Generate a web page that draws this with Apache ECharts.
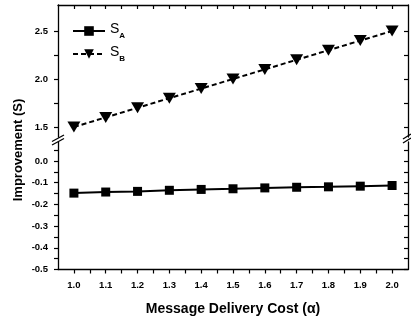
<!DOCTYPE html>
<html>
<head>
<meta charset="utf-8">
<script src="https://cdn.jsdelivr.net/npm/echarts@6/dist/echarts.min.js"></script>
<style>
html,body{margin:0;padding:0;background:#fff;}
#chart{width:411px;height:322px;}
</style>
</head>
<body>
<div id="chart"></div>
<script>
// ---- data ----
const xValues = [1.0, 1.1, 1.2, 1.3, 1.4, 1.5, 1.6, 1.7, 1.8, 1.9, 2.0];
const sA = [-0.148, -0.143, -0.140, -0.135, -0.131, -0.128, -0.124, -0.121, -0.119, -0.116, -0.113];
const sB = [1.5, 1.6, 1.7, 1.8, 1.9, 2.0, 2.1, 2.2, 2.3, 2.4, 2.5];
const seriesNames = ['SA', 'SB'];
const xTickLabels = [1.0, 1.1, 1.2, 1.3, 1.4, 1.5, 1.6, 1.7, 1.8, 1.9, 2.0];
const xTickMarks = [1.0, 1.05, 1.1, 1.15, 1.2, 1.25, 1.3, 1.35, 1.4, 1.45, 1.5, 1.55, 1.6, 1.65, 1.7, 1.75, 1.8, 1.85, 1.9, 1.95, 2.0];
const yTopLabels = [1.5, 2.0, 2.5];
const yTopTicks = [1.5, 1.75, 2.0, 2.25, 2.5];
const yBottomLabels = [-0.5, -0.4, -0.3, -0.2, -0.1, 0.0];
const yBottomTicks = [-0.5, -0.45, -0.4, -0.35, -0.3, -0.25, -0.2, -0.15, -0.1, -0.05, 0.0, 0.05];
const xTitle = 'Message Delivery Cost (\u03B1)';
const yTitle = 'Improvement (S)';

// ---- layout ----
const W = 411, H = 322;
const L = 58, R = 408, T = 5, B1 = 137, T2 = 142, BOT = 269.5;
const font = 'Liberation Sans, Arial, Helvetica, sans-serif';

const chart = echarts.init(document.getElementById('chart'), null, {renderer: 'canvas'});

function xAxisCommon(grid, pos, showLabel, inside) {
  return {
    type: 'value', gridIndex: grid, position: pos, min: 0.95, max: 2.05,
    axisLine: {show: true, onZero: false, lineStyle: {color: '#000', width: 1.3}},
    axisTick: {show: true, inside: inside, length: 4, customValues: xTickMarks, lineStyle: {color: '#000', width: 1.2}},
    axisLabel: {show: showLabel, customValues: xTickLabels, formatter: v => v.toFixed(1),
      color: '#000', fontSize: 9.5, fontWeight: 'bold', fontFamily: font, margin: 11},
    splitLine: {show: false}
  };
}
function yAxisCommon(grid, pos, min, max, labels, ticks, showLabel, inside) {
  return {
    type: 'value', gridIndex: grid, position: pos, min: min, max: max,
    axisLine: {show: true, onZero: false, lineStyle: {color: '#000', width: 1.3}},
    axisTick: {show: true, inside: inside, length: 4, customValues: ticks, lineStyle: {color: '#000', width: 1.2}},
    axisLabel: {show: showLabel, customValues: labels, formatter: v => v.toFixed(1),
      color: '#000', fontSize: 9.5, fontWeight: 'bold', fontFamily: font, margin: 10},
    splitLine: {show: false}
  };
}

const topMax = 2.5 + (31 - T) / 96;
const topMin = 1.5 - (B1 - 127) / 96;
const botMax = (161 - T2) / 217;

const option = {
  backgroundColor: '#fff',
  animation: false,
  grid: [
    {left: L, right: W - R, top: T, height: B1 - T},
    {left: L, right: W - R, top: T2, height: BOT - T2}
  ],
  xAxis: [
    xAxisCommon(0, 'top', false, true),
    Object.assign(xAxisCommon(1, 'bottom', true, false), {
      name: xTitle, nameLocation: 'middle', nameGap: 33,
      nameTextStyle: {color: '#000', fontSize: 14, fontWeight: 'bold', fontFamily: font}
    })
  ],
  yAxis: [
    yAxisCommon(0, 'left', topMin, topMax, yTopLabels, yTopTicks, true, false),
    yAxisCommon(0, 'right', topMin, topMax, yTopLabels, yTopTicks, false, true),
    yAxisCommon(1, 'left', -0.5, botMax, yBottomLabels, yBottomTicks, true, false),
    yAxisCommon(1, 'right', -0.5, botMax, yBottomLabels, yBottomTicks, false, true)
  ],
  legend: {
    orient: 'vertical', left: 67, top: 17, itemWidth: 32, itemHeight: 12, itemGap: 5,
    padding: 5,
    data: seriesNames,
    formatter: n => '{s|S}{sub|' + n.slice(1) + '}',
    textStyle: {
      color: '#000', fontFamily: font,
      rich: {
        s: {fontSize: 14, lineHeight: 18, verticalAlign: 'top', fontFamily: font, color: '#000'},
        sub: {fontSize: 8, lineHeight: 18, verticalAlign: 'bottom', fontFamily: font, color: '#000', fontWeight: 'bold'}
      }
    }
  },
  series: [
    {
      name: seriesNames[0], type: 'line', xAxisIndex: 1, yAxisIndex: 2,
      data: xValues.map((x, i) => [x, sA[i]]),
      symbol: 'rect', symbolSize: 9,
      itemStyle: {color: '#000'},
      lineStyle: {color: '#000', width: 2, type: 'solid'}
    },
    {
      name: seriesNames[1], type: 'line', xAxisIndex: 0, yAxisIndex: 0,
      data: xValues.map((x, i) => [x, sB[i]]),
      symbol: 'triangle', symbolRotate: 180, symbolSize: [13, 11],
      itemStyle: {color: '#000'},
      lineStyle: {color: '#000', width: 2, type: [5, 3]}
    }
  ],
  graphic: [
    {type: 'text', x: 18, y: 150, rotation: Math.PI / 2,
      style: {text: yTitle, fill: '#000', font: 'bold 13px ' + font, textAlign: 'center', textVerticalAlign: 'middle'}},
    {type: 'line', shape: {x1: L - 6, y1: 141.5, x2: L + 6, y2: 135}, style: {stroke: '#000', lineWidth: 1.3}},
    {type: 'line', shape: {x1: L - 6, y1: 145, x2: L + 6, y2: 138.5}, style: {stroke: '#000', lineWidth: 1.3}},
    {type: 'line', shape: {x1: R - 5, y1: 139, x2: R + 3, y2: 134}, style: {stroke: '#000', lineWidth: 1.3}},
    {type: 'line', shape: {x1: R - 5, y1: 143, x2: R + 3, y2: 138}, style: {stroke: '#000', lineWidth: 1.3}}
  ]
};
chart.setOption(option);
</script>
</body>
</html>
